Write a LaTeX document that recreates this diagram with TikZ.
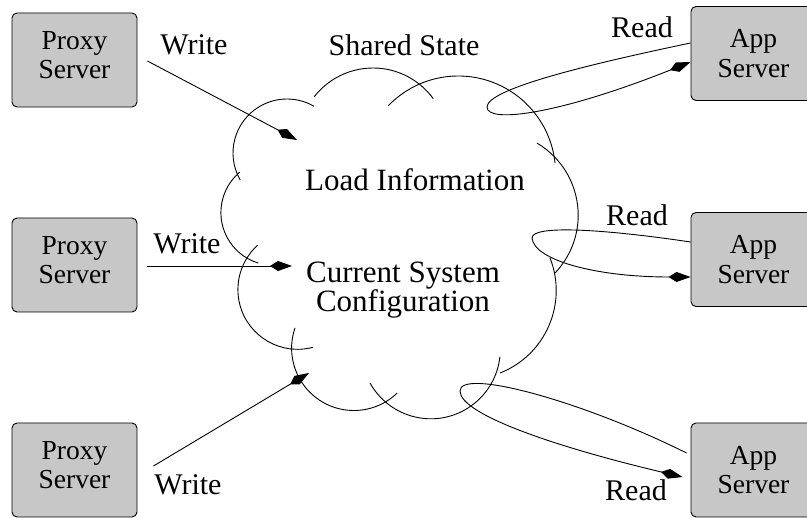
\documentclass[tikz,border=0pt]{standalone}
\usepackage{fontspec}
\setmainfont{Liberation Serif}
\usetikzlibrary{arrows.meta,calc}
\tikzset{server/.style={draw,rounded corners=5pt,fill=black!22,line width=0.9pt,minimum width=125pt,minimum height=94pt,align=center,font=\fontsize{27.5}{29.5}\selectfont}}
\tikzset{proxytxt/.style={text depth=10pt}}
\tikzset{note/.style={inner sep=0pt,font=\fontsize{30}{30}\selectfont}}
\tikzset{statetxt/.style={inner sep=0pt,align=center,font=\fontsize{31}{29}\selectfont}}
\tikzset{flow/.style={-{Kite[length=22pt,width=10pt,inset=8pt]},line width=0.9pt}}
\tikzset{puff/.style={line width=0.9pt}}

\begin{document}
\begin{tikzpicture}[x=1pt,y=-1pt]
  \path[use as bounding box,clip] (0,0) rectangle (807,518);
  % Servers on both sides
  \node[server,proxytxt] (proxy1) at (74.5,60) {Proxy\\Server};
  \node[server,proxytxt] (proxy2) at (74.5,265) {Proxy\\Server};
  \node[server,proxytxt] (proxy3) at (74.5,470) {Proxy\\Server};
  \node[server] (app1) at (753.5,53.5) {App\\Server};
  \node[server] (app2) at (753.5,259.5) {App\\Server};
  \node[server] (app3) at (753.5,470) {App\\Server};

  % Shared state cloud, one arc per puff
  \foreach \cx/\cy/\r/\a/\b in {287/153/54/150/300, 373/142.5/74.5/218/324,
      458.3/173.3/97.3/224/354, 494.5/215.2/83.7/-59.5/43.7,
      467.5/290.5/88.7/-21.5/68.5, 430.8/349.3/69.5/6.3/151,
      353.9/348.2/62.3/46/199, 297.6/289.6/59.7/75/228, 273.7/212.6/52.8/107/230}
    \draw[puff] (\cx,\cy) ++(\a:\r) arc[start angle=\a,end angle=\b,radius=\r];

  \node[note] (shared) at (404,45) {Shared State};
  \node[statetxt] (load) at (415,180) {Load Information};
  \node[statetxt] (config) at (403,290) {Current System\\Configuration};

  % Writes into the cloud
  \coordinate (w1) at (297,140);
  \coordinate (w2) at (292,266);
  \coordinate (w3) at (309,373);
  \draw[flow] ([xshift=10pt,yshift=-1pt]proxy1.east) -- (w1);
  \draw[flow] ([xshift=10pt,yshift=-1pt]proxy2.east) -- (w2);
  \draw[flow] ([shift={(16pt,4pt)}]proxy3.east) -- (w3);
  \node[note] (write1) at (194,45) {Write};
  \node[note] (write2) at (187,244) {Write};
  \node[note] (write3) at (188,485) {Write};

  % Reads looping out of the cloud
  \draw[flow] ([yshift=10.5pt]app1.west) .. controls (600,62) and (487,88) .. (487,107)
    .. controls (487,124) and (560,114) .. ([yshift=-8.5pt]app1.west);
  \draw[flow] ([yshift=17.5pt]app2.west) .. controls (610,230) and (532,224) .. (532,238)
    .. controls (534,260) and (595,277) .. ([yshift=-17.5pt]app2.west);
  \draw[flow] ([shift={(-4pt,17pt)}]app3.west) .. controls (580,400) and (460,368) .. (460,391)
    .. controls (460,415) and (560,448) .. ([shift={(-8pt,-7pt)}]app3.west);
  \node[note] (read1) at (642,27) {Read};
  \node[note] (read2) at (637,215) {Read};
  \node[note] (read3) at (636,490) {Read};
\end{tikzpicture}
\end{document}
